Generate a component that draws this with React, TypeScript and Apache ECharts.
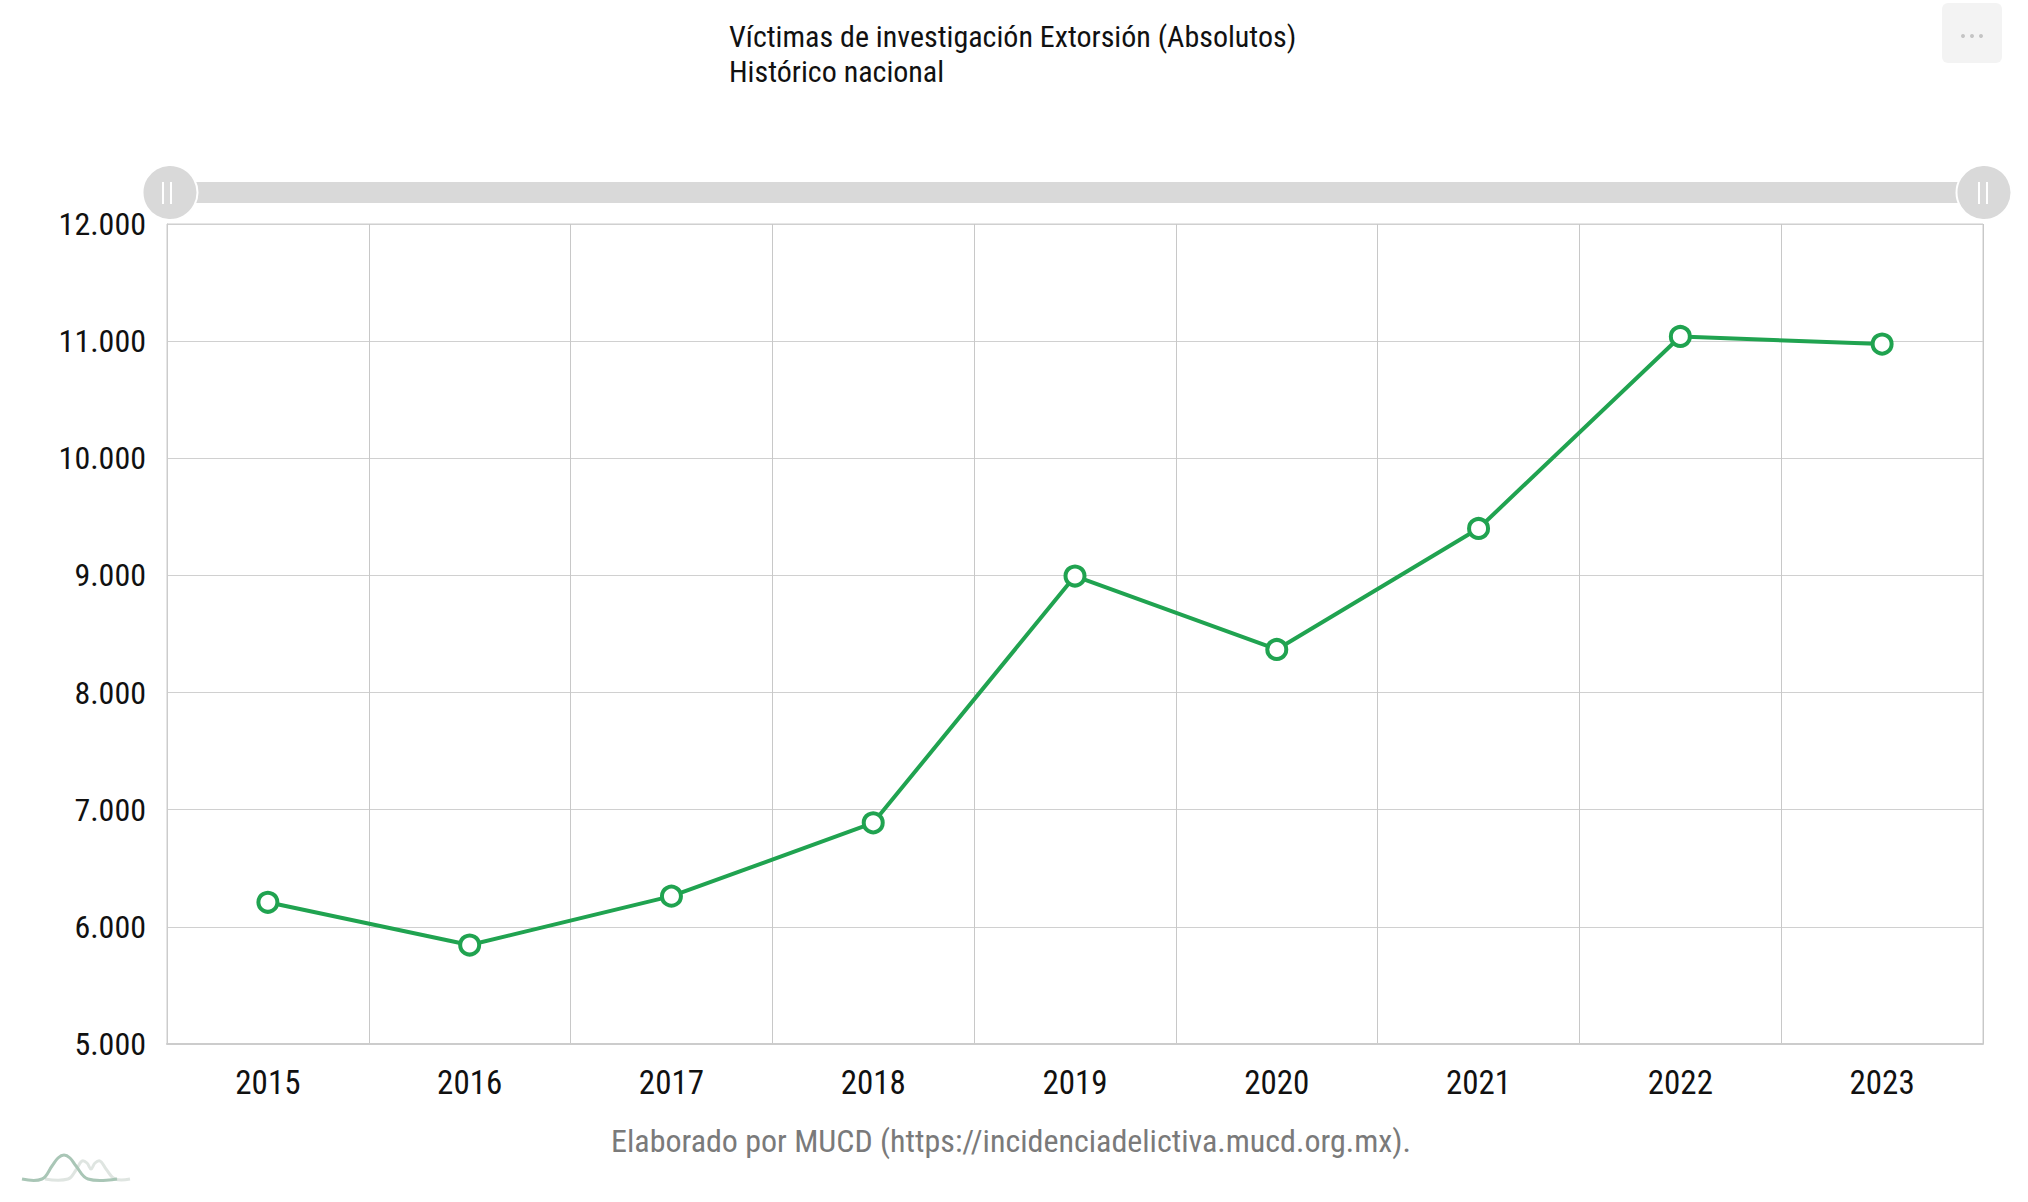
import React, { useEffect, useRef } from "react";
import * as echarts from "echarts";

const years = ["2015", "2016", "2017", "2018", "2019", "2020", "2021", "2022", "2023"];
const victims = [6210, 5845, 6262, 6888, 8995, 8368, 9401, 11040, 10975];
const yMin = 5000;
const yMax = 12000;
const yStep = 1000;
const titleText = "Víctimas de investigación Extorsión (Absolutos)";
const subtitleText = "Histórico nacional";
const footerText = "Elaborado por MUCD (https://incidenciadelictiva.mucd.org.mx).";

const FONT = "'Roboto Condensed', 'Liberation Sans Narrow', 'DejaVu Sans Condensed', Roboto, sans-serif";
const GREEN = "#20a350";

const fmt = (v: number) => String(v).replace(/\B(?=(\d{3})+(?!\d))/g, ".");

export default function App() {
  const ref = useRef<HTMLDivElement>(null);
  useEffect(() => {
    document.body.style.margin = "0";
    if (!ref.current) return;
    const chart = echarts.init(ref.current, undefined, { renderer: "svg" });
    const gridLeft = 167;
    const gridRight = 2028 - 1983;
    const handleY = 193;
    const lines = (cx: number) => [
      { type: "line", z: 200, shape: { x1: cx - 4, y1: handleY - 11, x2: cx - 4, y2: handleY + 11 }, style: { stroke: "#fff", lineWidth: 2 } },
      { type: "line", z: 200, shape: { x1: cx + 4, y1: handleY - 11, x2: cx + 4, y2: handleY + 11 }, style: { stroke: "#fff", lineWidth: 2 } },
    ];
    chart.setOption({
      animation: false,
      backgroundColor: "#fff",
      textStyle: { fontFamily: FONT },
      title: {
        text: titleText + "\n" + subtitleText,
        left: 724,
        top: 14,
        padding: 5,
        textStyle: { fontFamily: FONT, fontSize: 30, fontWeight: "normal", color: "#111", lineHeight: 35 },
      },
      grid: {
        left: gridLeft,
        right: gridRight,
        top: 224,
        bottom: 158,
        show: true,
        borderColor: "#cccccc",
        borderWidth: 1,
      },
      dataZoom: [
        {
          type: "slider",
          xAxisIndex: 0,
          start: 0,
          end: 100,
          left: gridLeft,
          right: gridRight,
          top: 182,
          height: 21,
          showDetail: false,
          showDataShadow: false,
          brushSelect: false,
          backgroundColor: "rgba(0,0,0,0)",
          borderColor: "rgba(0,0,0,0)",
          fillerColor: "#d9d9d9",
          dataBackground: { lineStyle: { opacity: 0 }, areaStyle: { opacity: 0 } },
          selectedDataBackground: { lineStyle: { opacity: 0 }, areaStyle: { opacity: 0 } },
          handleIcon: "circle",
          handleSize: "262%",
          handleStyle: { color: "#d9d9d9", borderColor: "#ffffff", borderWidth: 2, shadowBlur: 0 },
          moveHandleSize: 0,
          moveHandleStyle: { opacity: 0 },
          emphasis: { handleStyle: { color: "#d9d9d9", borderColor: "#ffffff" }, moveHandleStyle: { opacity: 0 } },
        },
      ],
      xAxis: {
        type: "category",
        data: years,
        boundaryGap: true,
        axisLine: { show: true, lineStyle: { color: "#cccccc", width: 2 } },
        axisTick: { show: false },
        splitLine: { show: true, lineStyle: { color: "#c8c8c8", width: 1 } },
        axisLabel: { color: "#111", fontSize: 33, margin: 22, fontFamily: FONT },
      },
      yAxis: {
        type: "value",
        min: yMin,
        max: yMax,
        interval: yStep,
        axisLine: { show: true, lineStyle: { color: "#cccccc", width: 1 } },
        axisTick: { show: false },
        splitLine: { show: true, lineStyle: { color: "#d0d0d0", width: 1 } },
        axisLabel: { color: "#111", fontSize: 32, margin: 21, fontFamily: FONT, formatter: (v: number) => fmt(v) },
      },
      series: [
        {
          type: "line",
          data: victims,
          symbol: "circle",
          symbolSize: 19,
          color: GREEN,
          itemStyle: { color: "#ffffff", borderColor: GREEN, borderWidth: 4 },
          lineStyle: { color: GREEN, width: 4 },
          z: 10,
        },
      ],
      graphic: [
        ...lines(167),
        ...lines(1983),
        {
          type: "rect",
          shape: { x: 1942, y: 3, width: 60, height: 60, r: 6 },
          style: { fill: "#f3f3f3" },
        },
        { type: "circle", shape: { cx: 1963, cy: 36, r: 2 }, style: { fill: "#c4c4c4" } },
        { type: "circle", shape: { cx: 1972, cy: 36, r: 2 }, style: { fill: "#c4c4c4" } },
        { type: "circle", shape: { cx: 1981, cy: 36, r: 2 }, style: { fill: "#c4c4c4" } },
        {
          type: "text",
          x: 1011,
          y: 1141,
          style: {
            text: footerText,
            fontFamily: FONT,
            fontSize: 32,
            fill: "#7a7a7a",
            align: "center",
            verticalAlign: "middle",
          },
        },
        {
          type: "polyline",
          shape: {
            points: [[45, 1179], [68, 1179], [76, 1170], [82, 1161], [87, 1163], [91, 1169], [95, 1163], [100, 1161], [106, 1169], [115, 1179], [130, 1179]],
            smooth: 0.4,
          },
          style: { stroke: "#dfe5e1", lineWidth: 3, fill: null },
        },
        {
          type: "polyline",
          shape: {
            points: [[22, 1179], [42, 1179], [52, 1166], [58, 1158], [64, 1155], [70, 1158], [76, 1166], [88, 1179], [117, 1179]],
            smooth: 0.4,
          },
          style: { stroke: "#a9c6b6", lineWidth: 3, fill: null },
        },
      ],
    });
    return () => chart.dispose();
  }, []);
  return <div ref={ref} style={{ width: 2028, height: 1202 }} />;
}
